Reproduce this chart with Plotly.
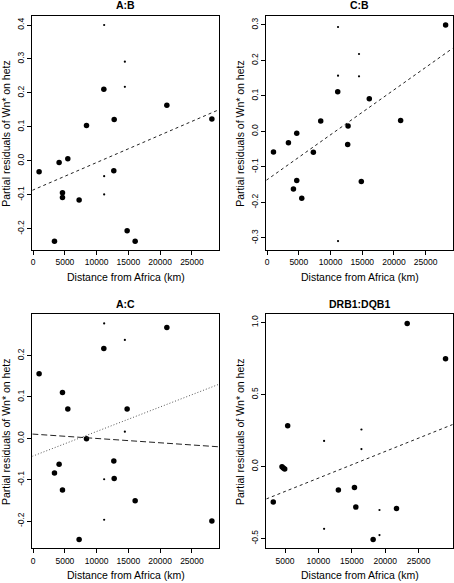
import plotly.graph_objects as go

W, H = 454, 583

# ---------------- data ----------------
# weight: 1 = large dot, 0 = small dot
AB_dist = [11180, 14440, 14440, 11130, 21050, 12760, 8400, 28140, 4090, 5460,
           940, 12700, 11180, 4620, 4620, 7240, 11180, 14800, 3360, 16060]
AB_resid = [0.400, 0.292, 0.218, 0.211, 0.164, 0.122, 0.104, 0.123, -0.005, 0.006,
            -0.032, -0.029, -0.045, -0.094, -0.108, -0.115, -0.099, -0.206, -0.237, -0.237]
AB_weight = [0, 0, 0, 1, 1, 1, 1, 1, 1, 1, 1, 1, 0, 1, 1, 1, 0, 1, 1, 1]

CB_dist = [28140, 11180, 14490, 11180, 14490, 11130, 16110, 8450, 21050, 12760,
           4670, 3360, 12700, 1000, 7290, 4670, 4150, 5460, 14850, 11180]
CB_resid = [0.300, 0.294, 0.218, 0.157, 0.155, 0.112, 0.092, 0.029, 0.031, 0.015,
            -0.005, -0.032, -0.037, -0.058, -0.059, -0.138, -0.162, -0.188, -0.141, -0.309]
CB_weight = [1, 0, 0, 0, 0, 1, 1, 1, 1, 1, 1, 1, 1, 1, 1, 1, 1, 1, 1, 0]

AC_dist = [11180, 21050, 14440, 11130, 940, 4620, 5460, 14800, 14440, 8400,
           4090, 3360, 12700, 12760, 11180, 4620, 16060, 11180, 28140, 7240]
AC_resid = [0.278, 0.268, 0.238, 0.217, 0.156, 0.111, 0.071, 0.071, 0.016, -0.001,
            -0.063, -0.084, -0.055, -0.097, -0.099, -0.125, -0.151, -0.197, -0.200, -0.245]
AC_weight = [0, 1, 0, 1, 1, 1, 1, 1, 0, 1, 1, 1, 1, 1, 0, 1, 1, 0, 1, 1]

DR_dist = [23290, 29030, 5400, 16440, 10850, 16440, 4550, 4745, 4955, 12990,
           15395, 3245, 15600, 19140, 21690, 10850, 19140, 18190]
DR_resid = [0.993, 0.748, 0.283, 0.257, 0.178, 0.121, -0.002, -0.011, -0.018, -0.164,
            -0.146, -0.247, -0.282, -0.302, -0.292, -0.433, -0.476, -0.507]
DR_weight = [1, 1, 1, 0, 0, 0, 1, 1, 1, 1, 1, 1, 1, 0, 1, 0, 0, 1]

# fitted lines: (intercept, slope per km)
AB_fit = (-0.0857, 8.08e-6)
CB_fit = (-0.136, 1.265e-5)
AC_fit_dash = (0.0102, -1.05e-6)
AC_fit_dot = (-0.0427, 5.93e-6)
DR_fit = (-0.266, 1.853e-5)

# tick labels
X_TICKS_A = [0, 5000, 10000, 15000, 20000, 25000]
X_TICKS_D = [5000, 10000, 15000, 20000, 25000]
AB_YT = [-0.2, -0.1, 0.0, 0.1, 0.2, 0.3, 0.4]
CB_YT = [-0.3, -0.2, -0.1, 0.0, 0.1, 0.2, 0.3]
AC_YT = [-0.2, -0.1, 0.0, 0.1, 0.2]
DR_YT = [-0.5, 0.0, 0.5, 1.0]

TITLES = ["A:B", "C:B", "A:C", "DRB1:DQB1"]
XLAB = "Distance from Africa (km)"
YLAB = "Partial residuals of Wn* on hetz"

# ---------------- layout geometry (pixels) ----------------
FONT = "Liberation Sans, Arial, Helvetica, sans-serif"
panels = [
    # name, dist, resid, weight, fits, xrange, yrange, xticks, yticks, box(px: l, r, t, b)
    (TITLES[0], AB_dist, AB_resid, AB_weight, [(AB_fit, "3px,3px", "#222222")], [-130, 29260],
     [-0.2625, 0.4265], X_TICKS_A, AB_YT, (32.3, 219, 16, 250)),
    (TITLES[1], CB_dist, CB_resid, CB_weight, [(CB_fit, "3px,3px", "#222222")], [-130, 29260],
     [-0.334, 0.325], X_TICKS_A, CB_YT, (266.3, 452.7, 16, 250)),
    (TITLES[2], AC_dist, AC_resid, AC_weight,
     [(AC_fit_dash, "6px,3px", "#222222"), (AC_fit_dot, "1px,2px", "#555555")],
     [-130, 29260], [-0.266, 0.300], X_TICKS_A, AC_YT, (32.3, 219, 314.3, 548.3)),
    (TITLES[3], DR_dist, DR_resid, DR_weight, [(DR_fit, "3px,3px", "#222222")], [2200, 30100],
     [-0.568, 1.057], X_TICKS_D, DR_YT, (266.3, 452.7, 314.3, 548.3)),
]

def fmt_y(v):
    return ("%.1f" % v).replace("-0.0", "0.0")

fig = go.Figure()
annotations = []
layout_axes = {}

for i, (name, xs, ys, wts, fits, xr, yr, xt, yt, box) in enumerate(panels):
    n = "" if i == 0 else str(i + 1)
    xa, ya = "x" + n, "y" + n
    l, r, t, b = box
    sizes = [5.5 if w else 2.2 for w in wts]
    fig.add_trace(go.Scatter(x=xs, y=ys, mode="markers", xaxis=xa, yaxis=ya,
                             marker=dict(size=sizes, color="black", opacity=1,
                                         line=dict(width=0)),
                             showlegend=False, cliponaxis=False, hoverinfo="x+y"))
    for (b0, b1), dash, col in fits:
        lx = [xr[0], xr[1]]
        ly = [b0 + b1 * v for v in lx]
        fig.add_trace(go.Scatter(x=lx, y=ly, mode="lines", xaxis=xa, yaxis=ya,
                                 line=dict(color=col, width=1, dash=dash),
                                 showlegend=False, hoverinfo="skip"))
    common = dict(showline=True, mirror=True, linecolor="black", linewidth=1,
                  ticks="outside", ticklen=4, tickwidth=1, tickcolor="black",
                  showgrid=False, zeroline=False, automargin=False,
                  tickfont=dict(family=FONT, size=8.5, color="black"))
    layout_axes["xaxis" + n] = dict(domain=[l / W, r / W], range=xr, anchor=ya,
                                    tickvals=xt, ticktext=[str(v) for v in xt], **common)
    layout_axes["yaxis" + n] = dict(domain=[1 - b / H, 1 - t / H], range=yr, anchor=xa,
                                    tickvals=yt, ticktext=[fmt_y(v) for v in yt],
                                    tickangle=-90, **common)
    cx = (l + r) / 2
    annotations.append(dict(text="<b>%s</b>" % name, x=cx / W, y=1 - (t - 10.5) / H,
                            xref="paper", yref="paper", showarrow=False,
                            xanchor="center", yanchor="middle",
                            font=dict(family=FONT, size=10.5, color="black")))
    annotations.append(dict(text=XLAB, x=cx / W, y=1 - (b + 27) / H,
                            xref="paper", yref="paper", showarrow=False,
                            xanchor="center", yanchor="middle",
                            font=dict(family=FONT, size=10.5, color="black")))
    annotations.append(dict(text=YLAB, x=(l - 26.5) / W, y=1 - ((t + b) / 2) / H,
                            xref="paper", yref="paper", showarrow=False, textangle=-90,
                            xanchor="center", yanchor="middle",
                            font=dict(family=FONT, size=10.5, color="black")))

fig.update_layout(width=W, height=H, margin=dict(l=0, r=0, t=0, b=0),
                  paper_bgcolor="white", plot_bgcolor="white", hovermode=False,
                  annotations=annotations, **layout_axes)

fig.write_html("out.html", config={"displayModeBar": False, "staticPlot": True},
               post_script="document.body.style.margin='0';document.body.style.padding='0';")
